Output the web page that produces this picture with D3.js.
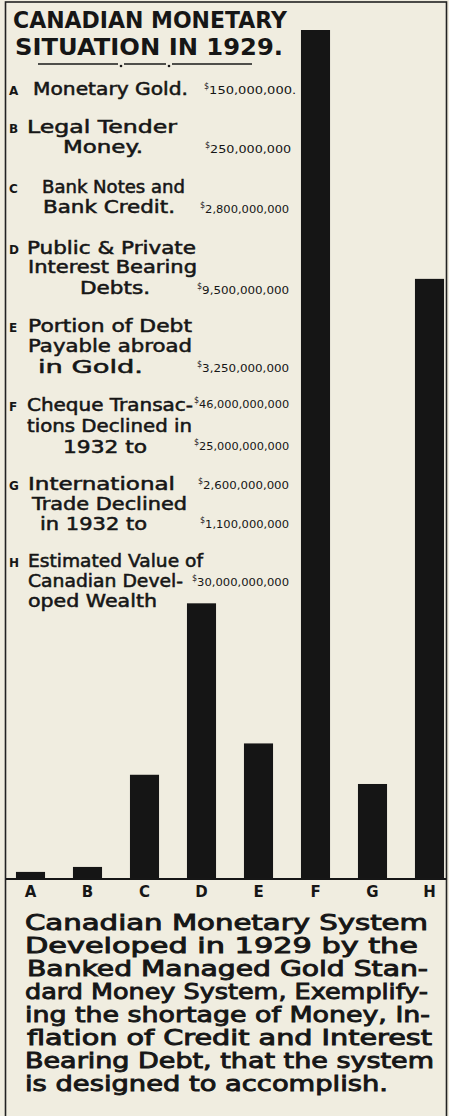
<!DOCTYPE html>
<html lang="en">
<head>
<meta charset="UTF-8">
<title>Canadian Monetary Situation in 1929</title>
<style>
  body { margin: 0; background: #f0ede0; }
  svg { display: block; }
  .frame { fill: none; stroke: #222; stroke-width: 1.6px; }
  .bar { fill: #151515; }
  .txt { fill: #161616; font-family: "DejaVu Sans", sans-serif; }
  .heavy { stroke: #161616; stroke-width: 0.55px; }
</style>
</head>
<body>
<svg width="449" height="1116"></svg>
<script src="https://cdn.jsdelivr.net/npm/d3@7"></script>
<script>
(function () {
  'use strict';

  // ---- data ----
  var title = ["CANADIAN MONETARY", "SITUATION IN 1929."];
  var categories = ["A", "B", "C", "D", "E", "F", "G", "H"];
  var itemLines = [
    ["Monetary Gold."],
    ["Legal Tender", "Money."],
    ["Bank Notes and", "Bank Credit."],
    ["Public & Private", "Interest Bearing", "Debts."],
    ["Portion of Debt", "Payable abroad", "in Gold."],
    ["Cheque Transac-", "tions Declined in", "1932 to"],
    ["International", "Trade Declined", "in 1932 to"],
    ["Estimated Value of", "Canadian Devel-", "oped Wealth"]
  ];
  var amounts = [
    ["150,000,000."],
    ["250,000,000"],
    ["2,800,000,000"],
    ["9,500,000,000"],
    ["3,250,000,000"],
    ["46,000,000,000", "25,000,000,000"],
    ["2,600,000,000", "1,100,000,000"],
    ["30,000,000,000"]
  ];
  // bar heights as drawn, in billions of dollars (F drawn as 46)
  var barValues = [0.33, 0.6, 5.6, 14.9, 7.3, 46, 5.1, 32.5];
  var caption = [
    "Canadian Monetary System",
    "Developed in 1929 by the",
    "Banked Managed Gold Stan-",
    "dard Money System, Exemplify-",
    "ing the shortage of Money, In-",
    "flation of Credit and Interest",
    "Bearing Debt, that the system",
    "is designed to accomplish."
  ];

  // ---- layout (x, baseline, width) ----
  var titlePos = [[13, 28, 274], [15, 55, 268]];
  var itemPos = [
    [[33, 95, 155]],
    [[27, 133, 150], [63, 153, 80]],
    [[42, 193, 143], [43, 213, 132]],
    [[27, 254, 169], [28, 273, 169], [80, 294, 70]],
    [[28, 332, 164], [28, 352, 164], [38, 373, 105]],
    [[27, 411, 166], [27, 432, 165], [63, 453, 84]],
    [[28, 490, 147], [32, 510, 155], [40, 530, 107]],
    [[28, 567, 175], [28, 587, 155], [28, 607, 129]]
  ];
  var amountPos = [
    [[204, 94, 93]],
    [[205, 153, 87]],
    [[200, 213, 90]],
    [[197, 294, 93]],
    [[197, 372, 93]],
    [[194, 408, 96], [194, 450, 96]],
    [[198, 489, 92], [200, 528, 90]],
    [[192, 586, 98]]
  ];
  var captionPos = [
    [25, 930, 403], [25, 953, 393], [27, 976, 401], [25, 999, 403],
    [25, 1022, 405], [27, 1045, 405], [25, 1068, 409], [25, 1091, 363]
  ];

  var svg = d3.select("svg");
  var BASE = 878;

  // frame
  svg.append("rect").attr("class", "frame")
    .attr("x", 5.5).attr("y", 2).attr("width", 441).attr("height", 1130);

  // title
  svg.selectAll(".title").data(title).enter().append("text")
    .attr("class", "txt title")
    .attr("x", function (d, i) { return titlePos[i][0]; })
    .attr("y", function (d, i) { return titlePos[i][1]; })
    .attr("textLength", function (d, i) { return titlePos[i][2]; })
    .attr("lengthAdjust", "spacingAndGlyphs")
    .style("font-size", "23px").style("font-weight", "bold")
    .text(function (d) { return d; });

  // divider under title
  var div = svg.append("g").attr("stroke", "#1a1a1a").attr("stroke-width", 1.6);
  [[38, 118], [124, 166], [172, 252]].forEach(function (s) {
    div.append("line").attr("x1", s[0]).attr("x2", s[1]).attr("y1", 64).attr("y2", 64);
  });
  [121, 169].forEach(function (cx) {
    svg.append("circle").attr("cx", cx).attr("cy", 66).attr("r", 1.3).attr("fill", "#1a1a1a");
  });

  // item letters + labels
  categories.forEach(function (c, i) {
    svg.append("text").attr("class", "txt")
      .attr("x", 9).attr("y", itemPos[i][0][1])
      .style("font-size", "12px").style("font-weight", "bold")
      .text(c);

    itemLines[i].forEach(function (line, j) {
      var p = itemPos[i][j];
      svg.append("text").attr("class", "txt heavy")
        .attr("x", p[0]).attr("y", p[1])
        .attr("textLength", p[2]).attr("lengthAdjust", "spacingAndGlyphs")
        .style("font-size", "18px")
        .text(line);
    });

    amounts[i].forEach(function (a, j) {
      var p = amountPos[i][j];
      var t = svg.append("text").attr("class", "txt")
        .attr("x", p[0]).attr("y", p[1])
        .style("font-size", "10px");
      t.append("tspan").attr("dy", -5).style("font-size", "8px").text("$");
      t.append("tspan").attr("dy", 5)
        .attr("textLength", p[2] - 6).attr("lengthAdjust", "spacingAndGlyphs")
        .text(a);
    });
  });

  // scales
  var x = d3.scaleBand()
    .domain(categories)
    .range([2, 458])
    .paddingInner(0.49)
    .paddingOuter(0.245);

  var y = d3.scaleLinear()
    .domain([0, 46])
    .range([BASE, 30]);

  // bars
  svg.selectAll(".bar")
    .data(barValues)
    .enter()
    .append("rect")
    .attr("class", "bar")
    .attr("x", function (d, i) { return x(categories[i]); })
    .attr("width", x.bandwidth())
    .attr("y", function (d) { return y(d); })
    .attr("height", function (d) { return BASE - y(d); });

  // baseline
  svg.append("line")
    .attr("x1", 6).attr("x2", 446).attr("y1", BASE + 1).attr("y2", BASE + 1)
    .attr("stroke", "#161616").attr("stroke-width", 2);

  // category axis
  var axis = svg.append("g")
    .attr("transform", "translate(0," + (BASE + 2) + ")")
    .call(d3.axisBottom(x).tickSize(0).tickPadding(6));
  axis.select(".domain").remove();
  axis.selectAll("text")
    .attr("class", "txt")
    .style("font-size", "15px").style("font-weight", "bold")
    .style("font-family", "DejaVu Sans, sans-serif")
    .attr("fill", "#161616");

  // caption
  svg.selectAll(".cap").data(caption).enter().append("text")
    .attr("class", "txt cap heavy")
    .attr("x", function (d, i) { return captionPos[i][0]; })
    .attr("y", function (d, i) { return captionPos[i][1]; })
    .attr("textLength", function (d, i) { return captionPos[i][2]; })
    .attr("lengthAdjust", "spacingAndGlyphs")
    .style("font-size", "21px")
    .style("stroke-width", "0.9px")
    .text(function (d) { return d; });

})();
</script>
</body>
</html>
